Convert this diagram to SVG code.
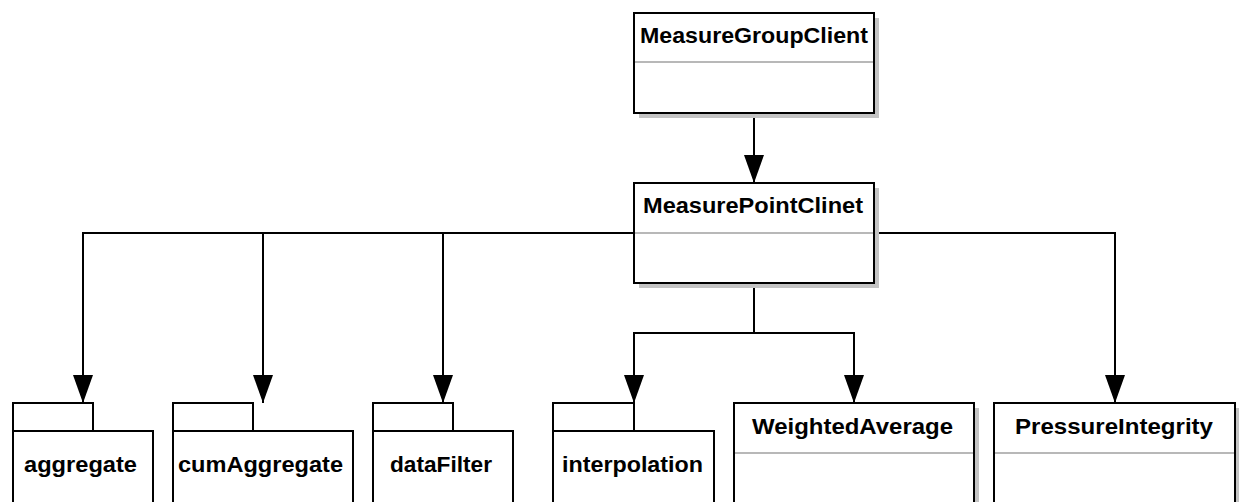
<svg xmlns="http://www.w3.org/2000/svg" width="1242" height="502" viewBox="0 0 1242 502">
<style>
.box{fill:#fff;stroke:#000;stroke-width:2}
.shadow{fill:#c4c4c4;stroke:none}
.sep{stroke:#a0a0a0;stroke-width:1.5}
.lbl{font-family:"Liberation Sans",Arial,sans-serif;font-weight:bold;font-size:22px;fill:#000}
.conn{fill:none;stroke:#000;stroke-width:2;marker-end:url(#arr)}
</style>
<defs>
<marker id="arr" viewBox="0 0 28 20" refX="28" refY="10" markerWidth="28" markerHeight="20" markerUnits="userSpaceOnUse" orient="auto">
<path d="M0,0 L28,10 L0,20 z" fill="#000"/>
</marker>
</defs>
<rect width="1242" height="502" fill="#fff"/>
<g id="connectors">
<path class="conn" d="M754,113 V183"/>
<path class="conn" d="M634,233 H83 V403"/>
<path class="conn" d="M634,233 H263 V403"/>
<path class="conn" d="M634,233 H443 V403"/>
<path class="conn" d="M874,233 H1115 V403"/>
<path class="conn" d="M754,283 V333 H634 V403"/>
<path class="conn" d="M754,283 V333 H854 V403"/>
</g>
<g id="MeasureGroupClient">
<rect class="shadow" x="639" y="18" width="240" height="100"/>
<rect class="box" x="634" y="13" width="240" height="100"/>
<line class="sep" x1="635" y1="62" x2="873" y2="62"/>
<text class="lbl" x="640" y="43" textLength="228" lengthAdjust="spacingAndGlyphs">MeasureGroupClient</text>
</g>
<g id="MeasurePointClinet">
<rect class="shadow" x="639" y="188" width="240" height="100"/>
<rect class="box" x="634" y="183" width="240" height="100"/>
<line class="sep" x1="635" y1="233" x2="873" y2="233"/>
<text class="lbl" x="643" y="213" textLength="220" lengthAdjust="spacingAndGlyphs">MeasurePointClinet</text>
</g>
<g id="aggregate">
<rect class="box" x="13" y="403" width="80" height="28"/>
<rect class="box" x="13" y="431" width="140" height="100"/>
<text class="lbl" x="24" y="472" textLength="113" lengthAdjust="spacingAndGlyphs">aggregate</text>
</g>
<g id="cumAggregate">
<rect class="box" x="173" y="403" width="80" height="28"/>
<rect class="box" x="173" y="431" width="180" height="100"/>
<text class="lbl" x="178" y="472" textLength="165" lengthAdjust="spacingAndGlyphs">cumAggregate</text>
</g>
<g id="dataFilter">
<rect class="box" x="373" y="403" width="80" height="28"/>
<rect class="box" x="373" y="431" width="140" height="100"/>
<text class="lbl" x="390" y="472" textLength="102" lengthAdjust="spacingAndGlyphs">dataFilter</text>
</g>
<g id="interpolation">
<rect class="box" x="553" y="403" width="81" height="28"/>
<rect class="box" x="553" y="431" width="161" height="100"/>
<text class="lbl" x="562" y="472" textLength="141" lengthAdjust="spacingAndGlyphs">interpolation</text>
</g>
<g id="WeightedAverage">
<rect class="shadow" x="739" y="408" width="240" height="100"/>
<rect class="box" x="734" y="403" width="240" height="100"/>
<line class="sep" x1="735" y1="453" x2="973" y2="453"/>
<text class="lbl" x="752" y="434" textLength="201" lengthAdjust="spacingAndGlyphs">WeightedAverage</text>
</g>
<g id="PressureIntegrity">
<rect class="shadow" x="999" y="408" width="240" height="100"/>
<rect class="box" x="994" y="403" width="241" height="100"/>
<line class="sep" x1="995" y1="453" x2="1234" y2="453"/>
<text class="lbl" x="1015" y="434" textLength="198" lengthAdjust="spacingAndGlyphs">PressureIntegrity</text>
</g>
</svg>
